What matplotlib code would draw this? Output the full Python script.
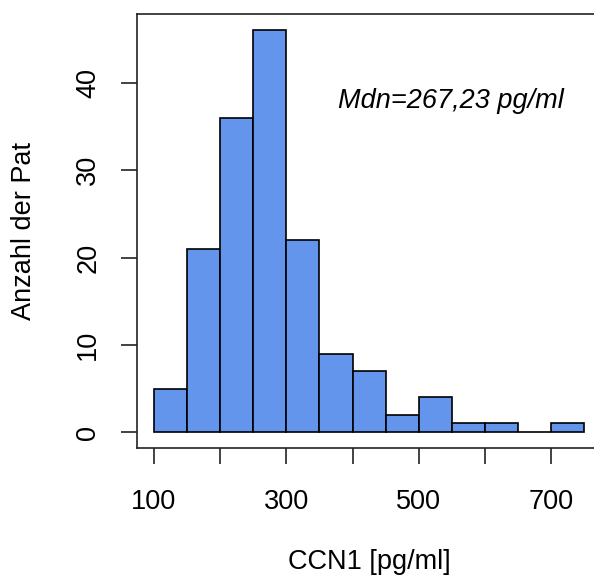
import matplotlib
matplotlib.use("Agg")
import matplotlib.pyplot as plt

plt.rcParams['font.family'] = ['Liberation Sans', 'DejaVu Sans']

bin_edges = [100, 150, 200, 250, 300, 350, 400, 450, 500, 550, 600, 650, 700, 750]
counts = [5, 21, 36, 46, 22, 9, 7, 2, 4, 1, 1, 0, 1]
x_ticks = [100, 200, 300, 400, 500, 600, 700]
x_tick_labels = ["100", "", "300", "", "500", "", "700"]
y_ticks = [0, 10, 20, 30, 40]
x_label = "CCN1 [pg/ml]"
y_label = "Anzahl der Pat"
annotation = "Mdn=267,23 pg/ml"

FS = 19.5

fig = plt.figure(figsize=(5.94, 5.77), dpi=100)
W, H = 594, 577
left, right, top, bottom = 136.7, 601.6, 14.3, 448.3
ax = fig.add_axes([left / W, 1 - bottom / H, (right - left) / W, (bottom - top) / H])

lefts = bin_edges[:-1]
widths = [b - a for a, b in zip(bin_edges[:-1], bin_edges[1:])]
ax.bar(lefts, counts, width=widths, align='edge', color='#6495ED',
       edgecolor='black', linewidth=1.2)

ax.set_xlim(74, 776)
ax.set_ylim(-1.84, 47.84)

ax.set_xticks(x_ticks)
ax.set_xticklabels(x_tick_labels, fontsize=FS)
ax.set_yticks(y_ticks)
ax.set_yticklabels([str(v) for v in y_ticks], fontsize=FS, rotation=90, va='center')
ax.tick_params(axis='x', length=11.5, width=1.2, pad=17.5, colors='#222222', labelcolor='black')
ax.tick_params(axis='y', length=11.5, width=1.2, pad=14, colors='#222222', labelcolor='black')

for s in ax.spines.values():
    s.set_linewidth(1.2)
    s.set_color('#222222')

ax.set_xlabel(x_label, fontsize=FS)
ax.xaxis.set_label_coords(0.5, (bottom - 562) / (bottom - top))
ax.xaxis.label.set_va('center')
ax.set_ylabel(y_label, fontsize=FS)
ax.yaxis.set_label_coords((24 - left) / (right - left), 0.5)
ax.yaxis.label.set_va('center')

ax.text(549, 37.9, annotation, fontsize=FS, style='italic', ha='center', va='center')

fig.savefig("out.png", dpi=100)
